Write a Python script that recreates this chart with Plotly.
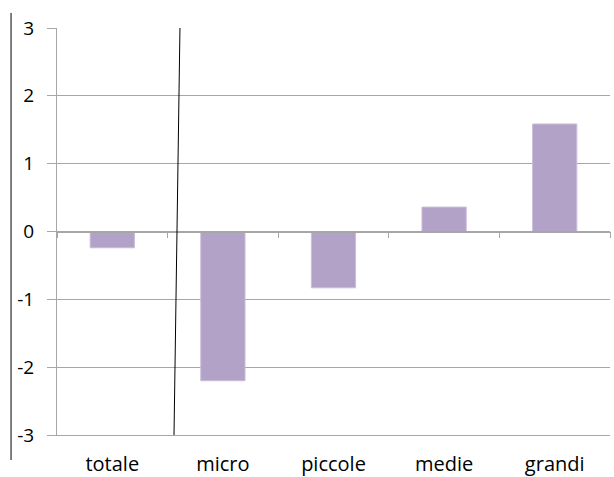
import plotly.graph_objects as go

categories = ["totale", "micro", "piccole", "medie", "grandi"]
values = [-0.24, -2.2, -0.83, 0.36, 1.585]
y_ticks = [-3, -2, -1, 0, 1, 2, 3]

W, H = 614, 477
L, R, T, B = 57, 4, 28, 42
GRID = "#a6a6a6"
FONT = dict(family="Open Sans", size=19, color="#000000")
XFONT = dict(family="Open Sans", size=20, color="#000000")

fig = go.Figure()
fig.add_trace(go.Bar(
    x=categories, y=values, width=0.4,
    marker=dict(color="#b3a2c7", line=dict(color="#c9bdd9", width=1)),
    xaxis="x", yaxis="y", showlegend=False, hoverinfo="skip",
))
# invisible helper trace for the zero-line axis with boundary ticks
fig.add_trace(go.Scatter(
    x=categories, y=[0] * len(categories), mode="none",
    xaxis="x2", yaxis="y", showlegend=False, hoverinfo="skip",
))

fig.update_layout(
    width=W, height=H,
    margin=dict(l=L, r=R, t=T, b=B, pad=0, autoexpand=False),
    paper_bgcolor="white", plot_bgcolor="white",
    font=FONT,
    xaxis=dict(
        type="category", categoryorder="array", categoryarray=categories,
        range=[-0.5, len(categories) - 0.5], automargin=False,
        showgrid=False, zeroline=False, showline=True, linecolor=GRID, linewidth=1,
        ticks="", tickfont=XFONT, ticklabelstandoff=11,
    ),
    xaxis2=dict(
        type="category", categoryorder="array", categoryarray=categories,
        range=[-0.5, len(categories) - 0.5], automargin=False,
        overlaying="x", anchor="free", position=0.5,
        showgrid=False, zeroline=False, showline=True, linecolor=GRID, linewidth=1.5,
        ticks="outside", tickson="boundaries", ticklen=6, tickcolor=GRID, tickwidth=1,
        showticklabels=False,
    ),
    yaxis=dict(
        range=[-3, 3], tickvals=y_ticks, ticktext=[str(v) for v in y_ticks],
        automargin=False,
        showgrid=True, gridcolor=GRID, gridwidth=1,
        zeroline=False, showline=True, linecolor=GRID, linewidth=1,
        ticks="outside", ticklen=9, tickcolor=GRID, tickwidth=1,
        tickfont=FONT, ticklabelstandoff=9,
    ),
)

# slanted black divider line (decoration in the original)
fig.add_shape(type="line", xref="x", yref="y", x0=0.612, y0=3.03, x1=0.558, y1=-3,
              line=dict(color="black", width=1))
# left border line
fig.add_shape(type="line", xref="paper", yref="paper",
              x0=-0.0831, y0=1.037, x1=-0.0831, y1=-0.0614,
              line=dict(color="black", width=1))

fig.write_html("out.html")
